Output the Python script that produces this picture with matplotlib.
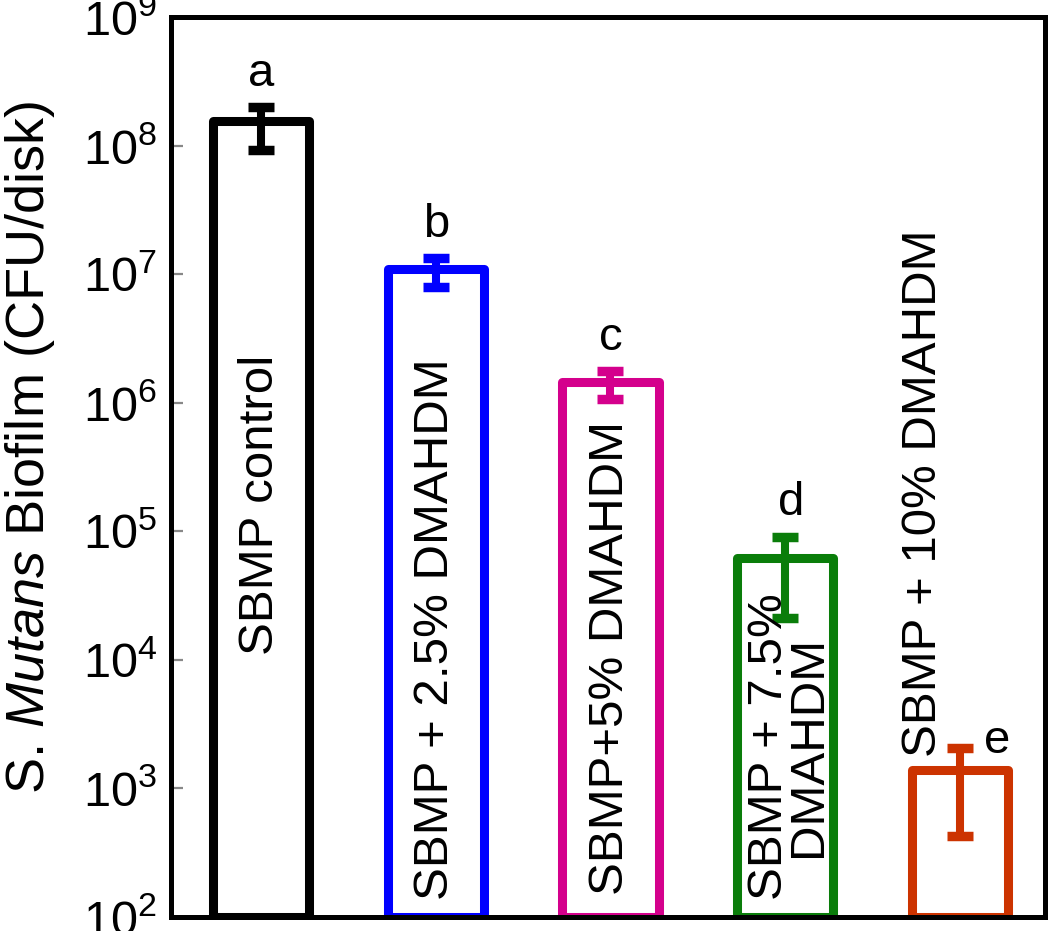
import numpy as np
import matplotlib
matplotlib.use('Agg')
import matplotlib.pyplot as plt
import matplotlib.transforms as mtransforms

# Datos (CFU/disk)
groups = ['SBMP control', 'SBMP + 2.5% DMAHDM', 'SBMP+5% DMAHDM',
          'SBMP + 7.5%\nDMAHDM', 'SBMP + 10% DMAHDM']
means = [1.56e8, 1.10e7, 1.45e6, 6.2e4, 1.3e3]
err_hi = [2.0e8, 1.34e7, 1.77e6, 9.0e4, 2.07e3]
err_lo = [9.3e7, 7.9e6, 1.07e6, 2.1e4, 4.3e2]
letters = ['a', 'b', 'c', 'd', 'e']
colors = ['#000000', '#0000ff', '#d4008c', '#0a7d0a', '#cc3300']


def main():
    plt.rcParams['font.family'] = ['Liberation Sans', 'DejaVu Sans']
    plt.rcParams['mathtext.fontset'] = 'custom'
    plt.rcParams['mathtext.rm'] = 'Liberation Sans'
    plt.rcParams['mathtext.it'] = 'Liberation Sans:italic'

    fig = plt.figure(figsize=(10.5, 9.31), dpi=100)
    ax = fig.add_axes([0.1629, 0.0150, 0.8323, 0.9667])

    x = np.arange(len(groups))
    yerr = [np.array(means) - np.array(err_lo), np.array(err_hi) - np.array(means)]

    for i in range(len(groups)):
        ax.bar(x[i], means[i], width=0.55, bottom=1e2, fill=False,
               edgecolor=colors[i], linewidth=6.5, joinstyle='round', zorder=2)
        ax.errorbar(x[i], means[i], yerr=[[yerr[0][i]], [yerr[1][i]]],
                    fmt='none', ecolor=colors[i], elinewidth=5.8,
                    capsize=9.7, capthick=6.8, zorder=3)

    ax.set_yscale('log')
    ax.set_ylim(1e2, 1e9)
    ax.set_xlim(-0.514, 4.486)
    ax.set_xticks([])
    ax.minorticks_off()
    ax.tick_params(axis='y', direction='in', length=8.5, width=1.6,
                   color='#888888', labelsize=35, pad=10)
    for sp in ax.spines.values():
        sp.set_linewidth(3.6)

    ax.set_ylabel(r'S. $\mathit{Mutans}$ Biofilm (CFU/disk)', fontsize=39)
    ax.yaxis.set_label_coords(-0.131, 0.522)

    trans = mtransforms.blended_transform_factory(ax.transData, ax.transAxes)
    # etiquetas dentro de las barras (desplazamiento x, y en fraccion del eje)
    lab_pos = [(0.0, 0.291), (0.0, 0.019), (0.0, 0.024), (0.02, 0.019), (-0.21, 0.178)]
    for i in range(len(groups)):
        ax.text(x[i] + lab_pos[i][0], lab_pos[i][1], groups[i], transform=trans,
                rotation=90, ha='center', va='bottom', fontsize=35.5,
                multialignment='center', linespacing=0.84, zorder=4)

    let_off = [(0, 8), (0, 8), (0, 8), (4, 9), (27, -11)]
    for i in range(len(groups)):
        ax.annotate(letters[i], (x[i], err_hi[i]), xytext=let_off[i],
                    textcoords='offset points', ha='center', va='bottom',
                    fontsize=34)

    fig.savefig('out.png', dpi=100)
    plt.close('all')


if __name__ == '__main__':
    main()
